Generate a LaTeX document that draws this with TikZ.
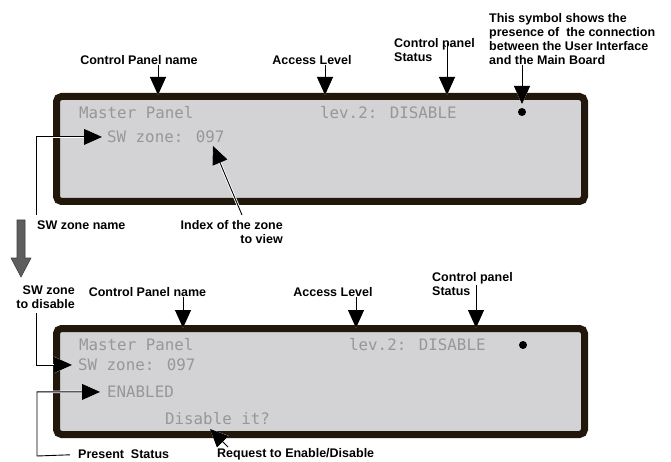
\documentclass[tikz,border=0pt]{standalone}
\usepackage{fontspec}
\setmainfont{Liberation Sans}
\newfontfamily\lcdfont{DejaVu Sans Mono}
\usetikzlibrary{arrows.meta,calc}
\definecolor{lcdback}{HTML}{D3D3D5}
\definecolor{lcdframe}{HTML}{21170A}
\definecolor{lcdink}{HTML}{979797}
\definecolor{bigarrow}{HTML}{5E5E5E}

\begin{document}
\begin{tikzpicture}[x=1pt,y=-1pt,
  lbl/.style={font=\fontsize{12.5}{14}\selectfont\bfseries,inner sep=0pt},
  panel/.style={draw=lcdframe,line width=7pt,fill=lcdback,rounded corners=5pt,minimum width=528pt,minimum height=105pt,inner sep=0pt,outer sep=1.5pt},
  lcd/.style={font=\fontsize{15.8}{16}\lcdfont,text=lcdink,inner sep=0pt,anchor=base west},
  link/.style={circle,fill=black,inner sep=0pt,minimum size=8pt},
  ar/.style={-{Triangle[length=18pt,width=16pt]},line width=0.9pt,preaction={draw=white,line width=2.6pt}}]
\useasboundingbox (0,0) rectangle (671,462);
% upper display
\node[lbl] (cpn) at (139,60) {Control Panel name};
\node[lbl] (acc) at (312,60) {Access Level};
\node[lbl,anchor=west,align=left] (sts) at (394,50.5) {Control panel\\Status};
\node[lbl,anchor=west,align=left] (sym) at (489,39) {This symbol shows the\\presence of\ \ the connection\\between the User Interface\\and the Main Board};
\node[panel] (lcd) at (320.5,149) {};
\node[lcd] (mst) at (79,118.7) {Master Panel};
\node[lcd] (lev) at (320,118.7) {lev.2: DISABLE};
\node[lcd] (zon) at (107,142.7) {SW zone: 097};
\node[link] (lnk) at (522,112) {};
\node[lbl,anchor=west] (swn) at (37,225) {SW zone name};
\node[lbl,anchor=east,align=right] (idx) at (283,232) {Index of the zone\\to view};
\coordinate (pcn) at (158,95);
\coordinate (pac) at (325,95);
\coordinate (pst) at (447,95);
\coordinate (sst) at (447,43);
\coordinate (psy) at (522,104);
\coordinate (swl) at (36,215);
\coordinate (itl) at (242,215);
\coordinate (itp) at (213,146);
\draw[ar] (cpn.south -| pcn) -- (pcn);
\draw[ar] (acc.south -| pac) -- (pac);
\draw[ar] (sst) -- (pst);
\draw[ar] (sym.south -| psy) -- (psy);
\draw[ar,shorten >=5pt] (swl) |- (zon.west);
\draw[ar] (itl) -- (itp);
\filldraw[fill=bigarrow,draw=black!75,line width=0.6pt] (17,220) -- (25,220) -- (25,258) -- (31,258) -- (21,277) -- (11,258) -- (17,258) -- cycle;
% lower display
\node[lbl,anchor=east,align=right] (dis) at (75,297.5) {SW zone\\to disable};
\node[lbl] (cpn2) at (147.5,292) {Control Panel name};
\node[lbl] (acc2) at (333,292) {Access Level};
\node[lbl,anchor=west,align=left] (sts2) at (432,284.5) {Control panel\\Status};
\node[panel,minimum height=106pt] (lcd2) at (320.5,381.5) {};
\node[lcd] (mst2) at (79,350.7) {Master Panel};
\node[lcd] (lev2) at (349,350.7) {lev.2: DISABLE};
\node[lcd] (zon2) at (78,370.7) {SW zone: 097};
\node[lcd] (ena) at (107,397.7) {ENABLED};
\node[lcd] (ask) at (165,424.7) {Disable it?};
\node[link] (lnk2) at (523,345) {};
\node[lbl,anchor=west] (pre) at (78,454.5) {Present\ \ Status};
\node[lbl,anchor=west] (req) at (217,454.5) {Request to Enable/Disable};
\coordinate (pcn2) at (183,328);
\coordinate (pac2) at (356,328);
\coordinate (pst2) at (476,328);
\coordinate (sst2) at (476,285);
\coordinate (dsl) at (36,313);
\coordinate (pcr) at (37,456);
\coordinate (rtl) at (228,447);
\coordinate (rtp) at (210,429);
\draw[ar] (cpn2.south -| pcn2) -- (pcn2);
\draw[ar] (acc2.south -| pac2) -- (pac2);
\draw[ar] (sst2) -- (pst2);
\draw[ar,shorten >=6pt] (dsl) |- (zon2.west);
\draw[ar,shorten <=8pt,shorten >=7pt] (pre.west) -- (pcr) |- (ena.west);
\draw[ar] (rtl) -- (rtp);
\end{tikzpicture}
\end{document}
